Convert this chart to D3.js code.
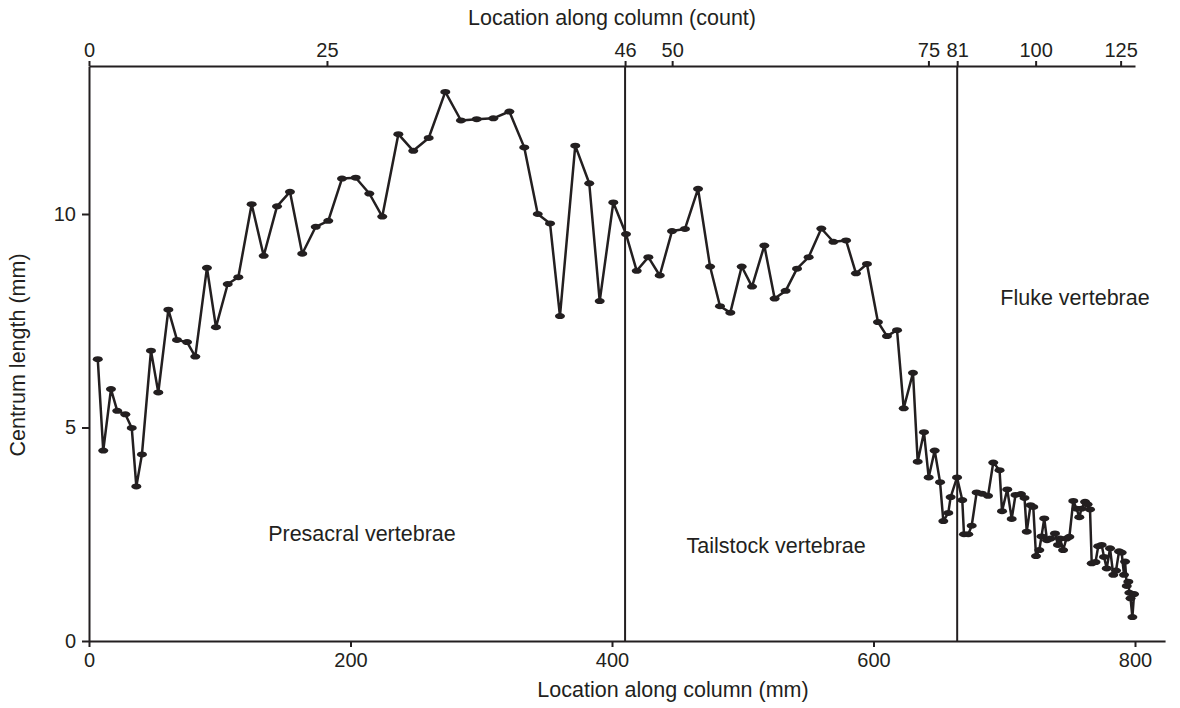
<head>
  <title>Centrum length</title>
  <style>
    body {
      margin: 0;
      background: white;
      font-family: "Liberation Sans", Arial, sans-serif;
    }
    svg text {
      fill: #231f20;
      font-size: 20px;
    }
    svg .title, svg .region {
      font-size: 21.5px;
    }
    svg .axis path, svg .axis line {
      stroke: #231f20;
      stroke-width: 2px;
    }
    svg .series {
      fill: none;
      stroke: #231f20;
      stroke-width: 2.5px;
      stroke-linejoin: round;
    }
    svg .dot {
      fill: #231f20;
    }
    svg .boundary {
      stroke: #231f20;
      stroke-width: 2px;
    }
  </style>
</head>

<body>
  <div id="chart"></div>

  <script src="https://cdn.jsdelivr.net/npm/d3@7"></script>
  <script>
    // location along the column (mm) and centrum length (mm), one entry per vertebra
    const locationMm = [
      6.7, 10.9, 16.8, 21.6, 27.8, 32.7, 36.2, 40.5, 47.4, 53.0,
      60.7, 67.3, 75.0, 81.3, 90.2, 97.1, 106.1, 114.2, 124.4, 133.6,
      143.8, 153.7, 163.1, 173.4, 183.0, 193.5, 204.0, 214.4, 224.3, 236.6,
      248.0, 259.8, 272.5, 284.5, 296.5, 309.2, 321.5, 332.9, 343.2, 352.6,
      360.2, 371.9, 382.6, 390.6, 401.0, 410.7, 418.9, 427.8, 436.5, 445.9,
      455.8, 465.8, 475.0, 482.6, 490.5, 499.2, 507.1, 516.5, 524.4, 532.8,
      541.5, 550.4, 560.1, 569.3, 579.0, 586.6, 595.0, 603.4, 610.3, 618.0,
      623.1, 630.2, 633.8, 638.6, 642.2, 646.8, 650.9, 653.4, 657.2, 659.0,
      663.9, 667.9, 669.2, 672.5, 675.1, 678.9, 683.0, 687.6, 691.6, 696.4,
      698.3, 702.3, 705.7, 708.6, 712.8, 715.5, 717.2, 720.1, 722.2, 724.3,
      726.8, 728.5, 730.6, 732.7, 735.4, 738.8, 741.1, 742.7, 745.0, 747.6,
      749.8, 752.8, 755.3, 757.4, 759.1, 761.8, 763.7, 765.6, 766.9, 769.8,
      771.9, 774.5, 776.3, 778.4, 780.9, 783.4, 785.5, 787.8, 789.8, 791.6,
      792.4, 793.7, 794.9, 795.7, 796.6, 798.0, 799.3
    ];
    const centrumLength = [
      6.60, 4.46, 5.90, 5.39, 5.31, 4.99, 3.62, 4.37, 6.80, 5.82,
      7.76, 7.05, 7.00, 6.66, 8.74, 7.35, 8.36, 8.52, 10.23, 9.02,
      10.18, 10.52, 9.07, 9.70, 9.84, 10.83, 10.85, 10.48, 9.94, 11.87,
      11.48, 11.78, 12.86, 12.19, 12.22, 12.24, 12.40, 11.56, 10.00, 9.78,
      7.61, 11.60, 10.72, 7.96, 10.27, 9.53, 8.67, 8.99, 8.56, 9.60,
      9.65, 10.59, 8.77, 7.84, 7.69, 8.77, 8.30, 9.26, 8.02, 8.20,
      8.72, 8.99, 9.66, 9.35, 9.38, 8.61, 8.83, 7.47, 7.14, 7.28,
      5.45, 6.28, 4.20, 4.89, 3.83, 4.46, 3.72, 2.81, 3.00, 3.37,
      3.83, 3.30, 2.50, 2.50, 2.70, 3.48, 3.45, 3.40, 4.18, 4.00,
      3.04, 3.55, 2.86, 3.42, 3.44, 3.35, 2.56, 3.18, 3.14, 1.99,
      2.13, 2.45, 2.87, 2.36, 2.40, 2.52, 2.25, 2.40, 2.13, 2.40,
      2.44, 3.28, 3.10, 2.90, 3.10, 3.26, 3.20, 3.08, 1.82, 1.85,
      2.22, 2.25, 1.97, 1.70, 2.17, 1.55, 1.65, 2.10, 2.07, 1.55,
      1.86, 1.29, 1.39, 1.13, 1.00, 0.56, 1.10
    ];

    const mmTicks = [0, 200, 400, 600, 800];
    const lengthTicks = [0, 5, 10];
    const countTicks = [0, 25, 46, 50, 75, 81, 100, 125];
    const countTickMm = [0, 182, 410, 446, 642, 664, 724, 789];
    const boundaryMm = [410, 664];   // vertebra 46 and 81
    const regionNames = ["Presacral vertebrae", "Tailstock vertebrae", "Fluke vertebrae"];

    const width = 1180, height = 708;
    const plotLeft = 89, plotBottom = 641, plotTop = 66;
    const pxPerMm = 1.3075;

    let svg = d3.select("#chart").append("svg")
      .attr("width", width)
      .attr("height", height);

    let x = d3.scaleLinear().domain([0, 823]).range([plotLeft, plotLeft + 823 * pxPerMm]);
    let xTop = d3.scaleLinear().domain([0, 800]).range([plotLeft, plotLeft + 800 * pxPerMm]);
    let y = d3.scaleLinear().domain([0, 10]).range([plotBottom, 214]);
    let yMax = y.invert(plotTop);
    y.domain([0, yMax]).range([plotBottom, plotTop]);

    // bottom axis (mm)
    svg.append("g").attr("class", "axis")
      .attr("transform", `translate(0,${plotBottom})`)
      .call(d3.axisBottom(x).tickValues(mmTicks).tickSizeInner(6).tickSizeOuter(0).tickPadding(6))
      .call(g => g.selectAll("text").attr("font-family", null).attr("font-size", null));

    // top axis (count), ticks sit at the location of that vertebra
    let topAxis = d3.axisTop(xTop).tickValues(countTickMm).tickSizeInner(5).tickSizeOuter(0).tickPadding(4)
      .tickFormat((d, i) => countTicks[i]);
    svg.append("g").attr("class", "axis")
      .attr("transform", `translate(0,${plotTop})`)
      .call(topAxis)
      .call(g => g.selectAll("text").attr("font-family", null).attr("font-size", null));

    // left axis
    svg.append("g").attr("class", "axis")
      .attr("transform", `translate(${plotLeft},0)`)
      .call(d3.axisLeft(y).tickValues(lengthTicks).tickSizeInner(7).tickSizeOuter(0).tickPadding(6))
      .call(g => g.selectAll("text").attr("font-family", null).attr("font-size", null));

    // region boundaries
    svg.selectAll(".boundary")
      .data(boundaryMm)
      .enter().append("line")
        .attr("class", "boundary")
        .attr("x1", d => x(d)).attr("x2", d => x(d))
        .attr("y1", plotTop).attr("y2", plotBottom);

    let pts = locationMm.map((d, i) => [d, centrumLength[i]]);

    svg.append("path")
      .datum(pts)
      .attr("class", "series")
      .attr("d", d3.line().x(d => x(d[0])).y(d => y(d[1])));

    svg.selectAll(".dot")
      .data(pts)
      .enter().append("ellipse")
        .attr("class", "dot")
        .attr("cx", d => x(d[0]))
        .attr("cy", d => y(d[1]))
        .attr("rx", 5)
        .attr("ry", 3);

    // axis titles
    svg.append("text")
      .attr("class", "title")
      .attr("x", 612).attr("y", 25)
      .attr("text-anchor", "middle")
      .text("Location along column (count)");

    svg.append("text")
      .attr("class", "title")
      .attr("x", 673).attr("y", 697)
      .attr("text-anchor", "middle")
      .text("Location along column (mm)");

    svg.append("text")
      .attr("class", "title")
      .attr("transform", "translate(25,355) rotate(-90)")
      .attr("text-anchor", "middle")
      .text("Centrum length (mm)");

    // region names
    let regionAt = [[137, 2.35], [457, 2.06], [697, 7.87]];
    svg.selectAll(".region")
      .data(regionNames)
      .enter().append("text")
        .attr("class", "region")
        .attr("x", (d, i) => x(regionAt[i][0]))
        .attr("y", (d, i) => y(regionAt[i][1]))
        .text(d => d);
  </script>
</body>
